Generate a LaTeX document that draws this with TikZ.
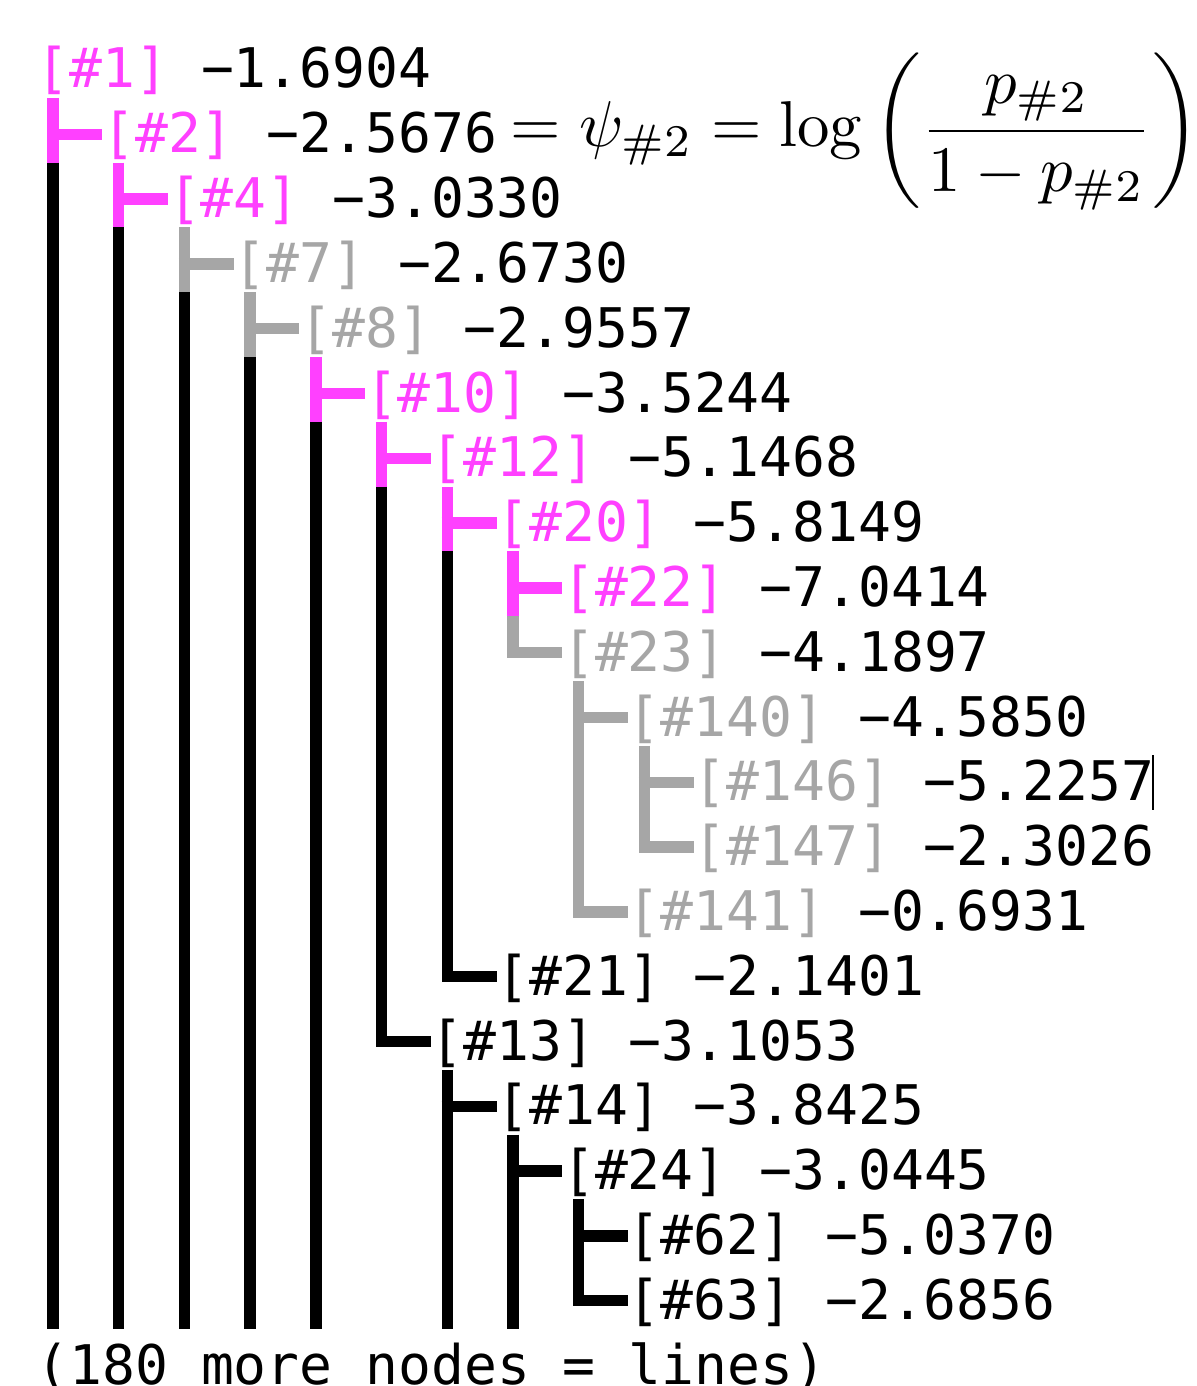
\documentclass[tikz,border=0pt]{standalone}
\usepackage{fontspec}
\usepackage{amsmath}
\newfontfamily\treemono{DejaVu Sans Mono}
\definecolor{mag}{RGB}{255,64,255}
\definecolor{gry}{RGB}{166,166,166}
% #1 row, #2 depth, #3 label colour, #4 number, #5 value
\newcommand\treerow[5]{\node[lbl] (n#4) at ({36.6+65.7*#2},{88+64.8*#1}) {\textcolor{#3}{[\##4]} −#5};}
% #1 row, #2 level, #3 colour, #4 node
\newcommand\teeto[4]{%
  \draw[br,#3] ({53+65.7*#2},{33+64.8*#1}) -- ({53+65.7*#2},{97.8+64.8*#1});
  \draw[br,#3] ({47.5+65.7*#2},{69.5+64.8*#1}) -- ([yshift=9.25pt]#4.base west);}
\newcommand\ellto[4]{%
  \draw[br,#3,line join=miter] ({53+65.7*#2},{33+64.8*#1}) |- ([yshift=9.25pt]#4.base west);}
% #1 first row, #2 last row, #3 level, #4 colour
\newcommand\contline[4]{\draw[br,#4] ({53+65.7*#3},{33+64.8*#1}) -- ({53+65.7*#3},{97.8+64.8*#2});}
\begin{document}
\begin{tikzpicture}[x=0.5pt,y=-0.5pt,
  lbl/.style={anchor=base west, inner sep=0pt, outer sep=0pt, font=\treemono\fontsize{27.32pt}{32pt}\selectfont},
  br/.style={line width=5.7pt, line cap=butt}]
\useasboundingbox (0,0) rectangle (1197,1386);
\fill[white] (0,0) rectangle (1197,1386);
% labels
\treerow{0}{0}{mag}{1}{1.6904}
\treerow{1}{1}{mag}{2}{2.5676}
\treerow{2}{2}{mag}{4}{3.0330}
\treerow{3}{3}{gry}{7}{2.6730}
\treerow{4}{4}{gry}{8}{2.9557}
\treerow{5}{5}{mag}{10}{3.5244}
\treerow{6}{6}{mag}{12}{5.1468}
\treerow{7}{7}{mag}{20}{5.8149}
\treerow{8}{8}{mag}{22}{7.0414}
\treerow{9}{8}{gry}{23}{4.1897}
\treerow{10}{9}{gry}{140}{4.5850}
\treerow{11}{10}{gry}{146}{5.2257}
\treerow{12}{10}{gry}{147}{2.3026}
\treerow{13}{9}{gry}{141}{0.6931}
\treerow{14}{7}{black}{21}{2.1401}
\treerow{15}{6}{black}{13}{3.1053}
\treerow{16}{7}{black}{14}{3.8425}
\treerow{17}{8}{black}{24}{3.0445}
\treerow{18}{9}{black}{62}{5.0370}
\treerow{19}{9}{black}{63}{2.6856}
\node[lbl] (more) at (36.6,1384) {(180 more nodes = lines)};
% formula
\node[anchor=base west, inner sep=0pt, scale=3.24] (psi) at (509.5,147)
  {$\displaystyle =\psi_{\#2}=\log\left(\frac{p_{\#2}}{1-p_{\#2}}\right)$};
% text cursor
\draw[line width=0.8pt] (1153,755) -- (1153,810);
% branch glyphs
\teeto{1}{0}{mag}{n2}
\teeto{2}{1}{mag}{n4}
\teeto{3}{2}{gry}{n7}
\teeto{4}{3}{gry}{n8}
\teeto{5}{4}{mag}{n10}
\teeto{6}{5}{mag}{n12}
\teeto{7}{6}{mag}{n20}
\teeto{8}{7}{mag}{n22}
\ellto{9}{7}{gry}{n23}
\teeto{10}{8}{gry}{n140}
\teeto{11}{9}{gry}{n146}
\ellto{12}{9}{gry}{n147}
\ellto{13}{8}{gry}{n141}
\ellto{14}{6}{black}{n21}
\ellto{15}{5}{black}{n13}
\teeto{16}{6}{black}{n14}
\teeto{17}{7}{black}{n24}
\teeto{18}{8}{black}{n62}
\ellto{19}{8}{black}{n63}
% continuation lines
\contline{2}{19}{0}{black}
\contline{3}{19}{1}{black}
\contline{4}{19}{2}{black}
\contline{5}{19}{3}{black}
\contline{6}{19}{4}{black}
\contline{7}{14}{5}{black}
\contline{8}{13}{6}{black}
\contline{17}{19}{6}{black}
\contline{18}{19}{7}{black}
\contline{11}{12}{8}{gry}
\end{tikzpicture}
\end{document}
